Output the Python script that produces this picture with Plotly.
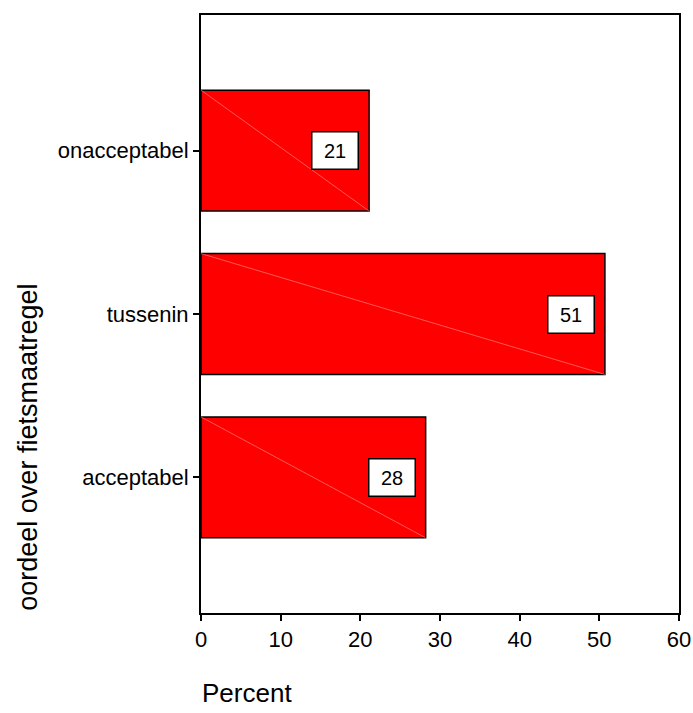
import plotly.graph_objects as go

categories = ["acceptabel", "tussenin", "onacceptabel"]
percent = [28.2, 50.7, 21.1]
labels = ["28", "51", "21"]
x_ticks = [0, 10, 20, 30, 40, 50, 60]

FONT = "Liberation Sans, Arial, sans-serif"
bar_w = 0.74

fig = go.Figure()
fig.add_trace(go.Bar(
    y=list(range(len(categories))), x=percent, orientation="h",
    width=bar_w,
    marker=dict(color="#ff0000", line=dict(color="black", width=1.5)),
    hoverinfo="skip", showlegend=False,
))

# faint diagonal artifact across each bar
for i, v in enumerate(percent):
    fig.add_trace(go.Scatter(
        x=[0, v], y=[i + bar_w / 2, i - bar_w / 2], mode="lines",
        line=dict(color="rgba(255,160,160,0.9)", width=0.6),
        hoverinfo="skip", showlegend=False,
    ))

for i, (v, t) in enumerate(zip(percent, labels)):
    fig.add_annotation(
        x=v, y=i, xref="x", yref="y", text=t, showarrow=False,
        xanchor="right", xshift=-10,
        width=41, height=32,
        font=dict(family=FONT, size=20, color="black"),
        bgcolor="white", bordercolor="black", borderwidth=1.5, borderpad=2,
    )

fig.add_annotation(
    text="Percent", showarrow=False,
    xref="paper", yref="paper", x=-0.002, y=-0.133,
    xanchor="left", yanchor="middle",
    font=dict(family=FONT, size=26, color="black"),
)

fig.add_annotation(
    text="oordeel over fietsmaatregel", showarrow=False, textangle=-90,
    xref="paper", yref="paper", x=-0.362, y=0.278,
    xanchor="center", yanchor="middle",
    font=dict(family=FONT, size=27, color="black"),
)

fig.update_layout(
    width=693, height=713,
    margin=dict(l=201, r=14, t=15, b=100),
    paper_bgcolor="white", plot_bgcolor="white",
    font=dict(family=FONT, size=22, color="black"),
    xaxis=dict(
        range=[0, 60], tickvals=x_ticks, ticktext=[str(t) for t in x_ticks],
        showgrid=False, zeroline=False, showline=True, linecolor="black",
        linewidth=2, mirror=True, ticks="outside", ticklen=6, tickwidth=1.5,
        tickcolor="black", tickfont=dict(family=FONT, size=22),
        automargin=False,
    ),
    yaxis=dict(
        range=[-0.83, 2.83], tickvals=list(range(len(categories))),
        ticktext=categories, showgrid=False, zeroline=False, showline=True,
        linecolor="black", linewidth=2, mirror=True, ticks="outside",
        ticklen=6, tickwidth=1.5, tickcolor="black",
        tickfont=dict(family=FONT, size=22), automargin=False,
    ),
)

fig.write_html(
    "out.html",
    config={"displayModeBar": False},
    post_script="document.body.style.margin='0';document.body.style.overflow='hidden';",
)
